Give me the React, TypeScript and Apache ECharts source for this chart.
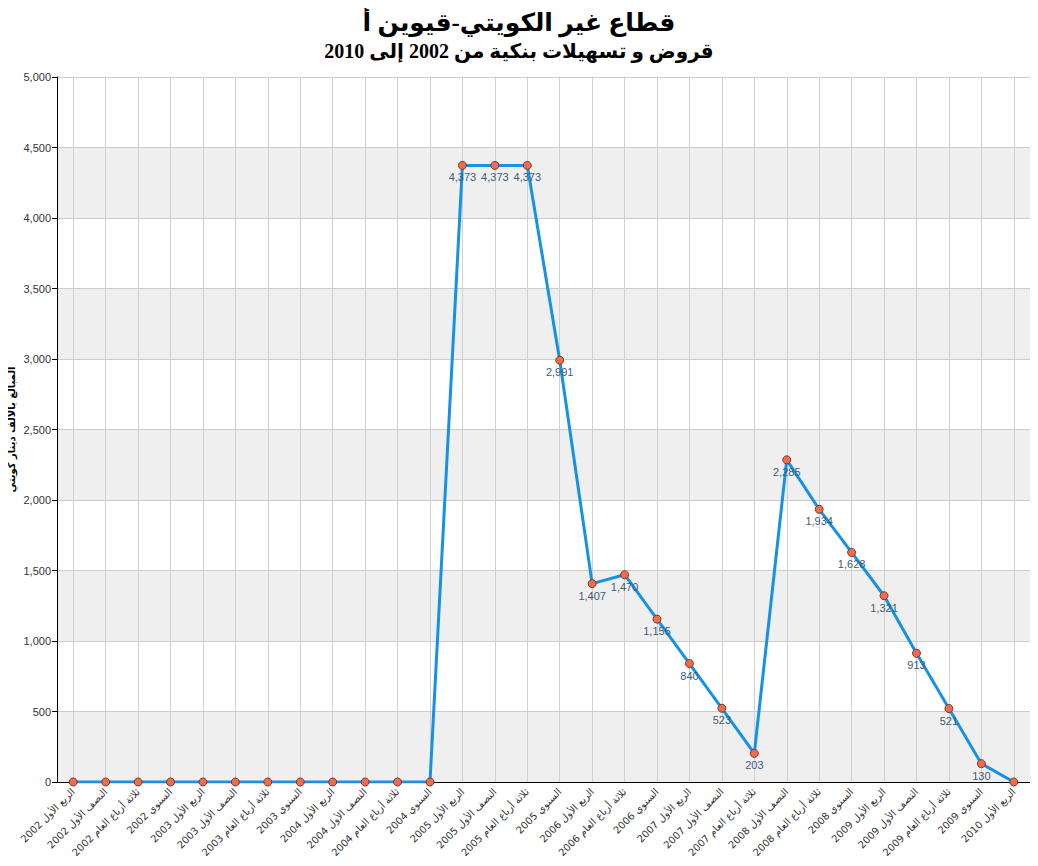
import React, { useEffect, useRef } from "react";
import * as echarts from "echarts";

const categories = [
  "الربع الأول 2002", "النصف الأول 2002", "ثلاثة أرباع العام 2002", "السنوي 2002",
  "الربع الأول 2003", "النصف الأول 2003", "ثلاثة أرباع العام 2003", "السنوي 2003",
  "الربع الأول 2004", "النصف الأول 2004", "ثلاثة أرباع العام 2004", "السنوي 2004",
  "الربع الأول 2005", "النصف الأول 2005", "ثلاثة أرباع العام 2005", "السنوي 2005",
  "الربع الأول 2006", "ثلاثة أرباع العام 2006", "السنوي 2006",
  "الربع الأول 2007", "النصف الأول 2007", "ثلاثة أرباع العام 2007",
  "النصف الأول 2008", "ثلاثة أرباع العام 2008", "السنوي 2008",
  "الربع الأول 2009", "النصف الأول 2009", "ثلاثة أرباع العام 2009", "السنوي 2009",
  "الربع الأول 2010",
];

const values = [
  0, 0, 0, 0, 0, 0, 0, 0, 0, 0, 0, 0,
  4373, 4373, 4373, 2991, 1407, 1470, 1155, 840, 523, 203,
  2285, 1934, 1628, 1321, 913, 521, 130, 0,
];

const titleText = "قطاع غير الكويتي-قيوين أ";
const subtitleText = "قروض و تسهيلات بنكية من 2002 إلى 2010";
const yAxisName = "المبالغ بالألف دينار كويتي";

export default function App() {
  const ref = useRef<HTMLDivElement>(null);
  useEffect(() => {
    if (!ref.current) return;
    const chart = echarts.init(ref.current, undefined, { renderer: "svg" });
    chart.setOption({
      animation: false,
      backgroundColor: "#fff",
      title: {
        text: titleText,
        subtext: subtitleText,
        left: "center",
        top: 5,
        itemGap: 6,
        textStyle: {
          fontFamily: "'Liberation Serif', 'DejaVu Sans', serif",
          fontWeight: "bold",
          fontSize: 25,
          color: "#000",
        },
        subtextStyle: {
          fontFamily: "'Liberation Serif', 'DejaVu Sans', serif",
          fontWeight: "bold",
          fontSize: 20,
          color: "#000",
        },
      },
      grid: {
        left: 57,
        right: 8,
        top: 77,
        bottom: 84,
        containLabel: false,
        outerBoundsMode: "none",
      },
      xAxis: {
        type: "category",
        data: categories,
        boundaryGap: true,
        axisLine: { lineStyle: { color: "#000", width: 1 } },
        axisTick: { alignWithLabel: true, length: 5, lineStyle: { color: "#000" } },
        axisLabel: {
          rotate: 45,
          interval: 0,
          fontSize: 10,
          color: "#333",
          fontFamily: "'DejaVu Sans', Arial, sans-serif",
          margin: 8,
        },
        splitLine: { show: true, alignWithLabel: true, lineStyle: { color: "#d0d0d0", width: 1 } },
      },
      yAxis: {
        type: "value",
        min: 0,
        max: 5000,
        interval: 500,
        name: yAxisName,
        nameLocation: "middle",
        nameGap: 41,
        nameMoveOverlap: false,
        nameTextStyle: {
          fontSize: 10,
          fontWeight: "bold",
          color: "#000",
          fontFamily: "'DejaVu Sans', Arial, sans-serif",
        },
        axisLine: { show: true, lineStyle: { color: "#000", width: 1 } },
        axisTick: { show: true, length: 5, lineStyle: { color: "#000" } },
        axisLabel: {
          fontSize: 11,
          color: "#333",
          fontFamily: "Arial, 'Liberation Sans', sans-serif",
          margin: 6,
          formatter: (v: number) => v.toLocaleString("en-US"),
        },
        splitLine: { show: true, lineStyle: { color: "#cccccc", width: 1 } },
        splitArea: { show: true, areaStyle: { color: ["#efefef", "#ffffff"] } },
      },
      series: [
        {
          type: "line",
          data: values,
          symbol: "circle",
          symbolSize: 8,
          lineStyle: { color: "#1592e6", width: 3 },
          itemStyle: { color: "#f26b4b", borderColor: "#7a3a2a", borderWidth: 1 },
          label: {
            show: true,
            position: "bottom",
            distance: 2,
            fontSize: 11,
            color: "#3d5c7a",
            fontFamily: "Arial, 'Liberation Sans', sans-serif",
            formatter: (p: any) => (p.value === 0 ? "" : Number(p.value).toLocaleString("en-US")),
          },
          z: 3,
        },
      ],
    });
    return () => chart.dispose();
  }, []);
  return <div ref={ref} style={{ width: 1038, height: 866, margin: "-8px 0 0 -8px" }} />;
}
